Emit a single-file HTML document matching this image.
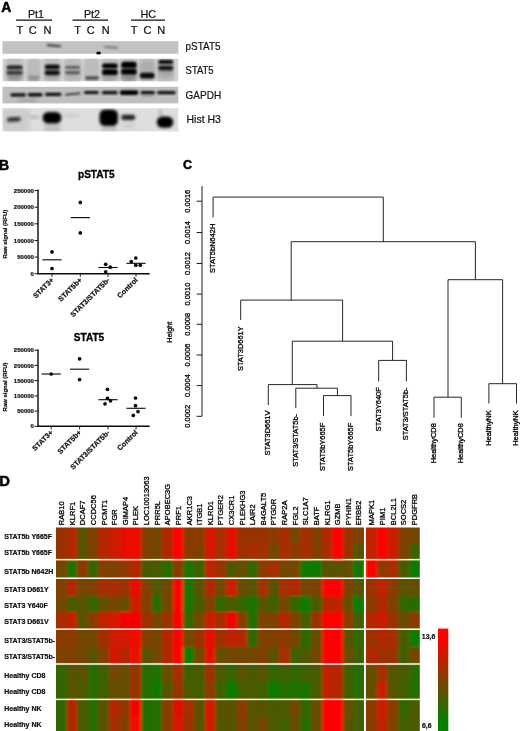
<!DOCTYPE html>
<html lang="en"><head><meta charset="utf-8"><title>Figure</title>
<style>html,body{margin:0;padding:0;background:#fff;overflow:hidden}svg{display:block}text{font-family:"Liberation Sans", sans-serif;fill:#111}.b{font-weight:bold}.h{stroke:#111;stroke-width:0.22px}.h2{fill:#000;stroke:#000;stroke-width:0.3px}.h3{fill:#000;stroke:#000;stroke-width:0.3px}.k{fill:#000;stroke:#000;stroke-width:0.5px}</style>
</head><body>
<svg width="520" height="731" viewBox="0 0 520 731">
<defs><filter id="bl0" x="-30%" y="-50%" width="160%" height="200%"><feGaussianBlur stdDeviation="0.5"/></filter><filter id="bl1" x="-20%" y="-50%" width="140%" height="200%"><feGaussianBlur stdDeviation="0.9"/></filter><filter id="bl2" x="-20%" y="-50%" width="140%" height="200%"><feGaussianBlur stdDeviation="1.5"/></filter><filter id="bl3" x="-20%" y="-50%" width="140%" height="200%"><feGaussianBlur stdDeviation="2.2"/></filter><filter id="hb" x="-5%" y="-5%" width="110%" height="110%"><feGaussianBlur stdDeviation="1.4 1.0"/></filter><filter id="gb" x="-5%" y="-100%" width="110%" height="300%"><feGaussianBlur stdDeviation="0.35"/></filter><linearGradient id="cb" x1="0" y1="0" x2="0" y2="1"><stop offset="0" stop-color="#ff0000"/><stop offset="0.1" stop-color="#fb0200"/><stop offset="0.9" stop-color="#048000"/><stop offset="1" stop-color="#008000"/></linearGradient></defs>
<rect width="520" height="731" fill="#fff"/>
<g id="panelA">
<text class="b k" x="1.2" y="11.7" font-size="14">A</text>
<text class="h" x="36.0" y="18" font-size="10.8" text-anchor="middle">Pt1</text>
<line x1="16.0" y1="20.1" x2="52.0" y2="20.1" stroke="#111" stroke-width="1.1"/>
<text class="h" x="19.8" y="33.5" font-size="11" text-anchor="middle">T</text>
<text class="h" x="32.8" y="33.5" font-size="11" text-anchor="middle">C</text>
<text class="h" x="47.5" y="33.5" font-size="11" text-anchor="middle">N</text>
<text class="h" x="92.0" y="18" font-size="10.8" text-anchor="middle">Pt2</text>
<line x1="72.5" y1="20.1" x2="108.0" y2="20.1" stroke="#111" stroke-width="1.1"/>
<text class="h" x="77.5" y="33.5" font-size="11" text-anchor="middle">T</text>
<text class="h" x="90.8" y="33.5" font-size="11" text-anchor="middle">C</text>
<text class="h" x="105.8" y="33.5" font-size="11" text-anchor="middle">N</text>
<text class="h" x="148.3" y="18" font-size="10.8" text-anchor="middle">HC</text>
<line x1="131.0" y1="20.1" x2="165.0" y2="20.1" stroke="#111" stroke-width="1.1"/>
<text class="h" x="134.2" y="33.5" font-size="11" text-anchor="middle">T</text>
<text class="h" x="147.5" y="33.5" font-size="11" text-anchor="middle">C</text>
<text class="h" x="161.2" y="33.5" font-size="11" text-anchor="middle">N</text>
<text class="h" x="185.6" y="49.9" font-size="11.2" textLength="34.9" lengthAdjust="spacingAndGlyphs">pSTAT5</text>
<text class="h" x="185.6" y="74.4" font-size="11.2" textLength="28.0" lengthAdjust="spacingAndGlyphs">STAT5</text>
<text class="h" x="185.6" y="98.9" font-size="11.2" textLength="35.5" lengthAdjust="spacingAndGlyphs">GAPDH</text>
<text class="h" x="186.5" y="122.9" font-size="11.2" textLength="34.4" lengthAdjust="spacingAndGlyphs">Hist H3</text>
<clipPath id="cs0"><rect x="2.5" y="41.2" width="175.8" height="12.6"/></clipPath>
<rect x="2.5" y="41.2" width="175.8" height="12.6" fill="#c2c2c2"/>
<clipPath id="cs1"><rect x="2.5" y="58.8" width="175.8" height="22.5"/></clipPath>
<rect x="2.5" y="58.8" width="175.8" height="22.5" fill="#d4d4d4"/>
<clipPath id="cs2"><rect x="2.5" y="86.8" width="175.8" height="16.6"/></clipPath>
<rect x="2.5" y="86.8" width="175.8" height="16.6" fill="#bfbfbf"/>
<clipPath id="cs3"><rect x="2.5" y="108.2" width="175.8" height="23.2"/></clipPath>
<rect x="2.5" y="108.2" width="175.8" height="23.2" fill="#dedede"/>
<g clip-path="url(#cs0)"><rect filter="url(#bl1)" x="46.5" y="44.6" width="14.5" height="2.1" rx="1.1" fill="#333" opacity="0.90" transform="rotate(5.0 53.8 45.6)"/></g>
<g clip-path="url(#cs0)"><rect filter="url(#bl1)" x="104.0" y="46.4" width="14.0" height="1.9" rx="0.9" fill="#606060" opacity="0.90" transform="rotate(4.0 111.0 47.4)"/></g>
<ellipse cx="98.6" cy="52.9" rx="2.4" ry="1.5" fill="#000" filter="url(#bl0)"/>
<g clip-path="url(#cs1)"><rect filter="url(#bl1)" x="5.5" y="57.2" width="18.0" height="26.0" rx="5.5" fill="#b9b9b9" opacity="0.85"/></g>
<g clip-path="url(#cs1)"><rect filter="url(#bl1)" x="27.0" y="57.2" width="13.5" height="26.0" rx="5.5" fill="#b9b9b9" opacity="0.85"/></g>
<g clip-path="url(#cs1)"><rect filter="url(#bl1)" x="43.5" y="57.2" width="17.5" height="26.0" rx="5.5" fill="#b9b9b9" opacity="0.85"/></g>
<g clip-path="url(#cs1)"><rect filter="url(#bl1)" x="64.0" y="57.2" width="17.5" height="26.0" rx="5.5" fill="#b9b9b9" opacity="0.85"/></g>
<g clip-path="url(#cs1)"><rect filter="url(#bl1)" x="84.0" y="57.2" width="15.0" height="26.0" rx="5.5" fill="#b9b9b9" opacity="0.85"/></g>
<g clip-path="url(#cs1)"><rect filter="url(#bl1)" x="101.0" y="57.2" width="18.0" height="26.0" rx="5.5" fill="#b9b9b9" opacity="0.85"/></g>
<g clip-path="url(#cs1)"><rect filter="url(#bl1)" x="120.2" y="57.2" width="17.8" height="26.0" rx="5.5" fill="#b9b9b9" opacity="0.85"/></g>
<g clip-path="url(#cs1)"><rect filter="url(#bl1)" x="139.2" y="57.2" width="16.3" height="26.0" rx="5.5" fill="#b9b9b9" opacity="0.85"/></g>
<g clip-path="url(#cs1)"><rect filter="url(#bl1)" x="157.2" y="57.2" width="17.3" height="26.0" rx="5.5" fill="#b9b9b9" opacity="0.85"/></g>
<g clip-path="url(#cs1)"><rect filter="url(#bl2)" x="6.6" y="65.0" width="15.9" height="15.0" rx="5.5" fill="#8c8c8c" opacity="0.90"/></g>
<g clip-path="url(#cs1)"><rect filter="url(#bl2)" x="28.0" y="75.0" width="11.5" height="5.5" rx="2.8" fill="#8a8a8a" opacity="0.85"/></g>
<g clip-path="url(#cs1)"><rect filter="url(#bl2)" x="28.0" y="63.0" width="11.5" height="12.0" rx="5.5" fill="#bbb" opacity="0.60"/></g>
<g clip-path="url(#cs1)"><rect filter="url(#bl2)" x="44.6" y="64.0" width="15.1" height="15.0" rx="5.5" fill="#999" opacity="0.85"/></g>
<g clip-path="url(#cs1)"><rect filter="url(#bl2)" x="65.0" y="65.0" width="15.0" height="13.0" rx="5.5" fill="#aaa" opacity="0.75"/></g>
<g clip-path="url(#cs1)"><rect filter="url(#bl2)" x="84.5" y="65.0" width="13.0" height="14.0" rx="5.5" fill="#bdbdbd" opacity="0.60"/></g>
<g clip-path="url(#cs1)"><rect filter="url(#bl2)" x="102.0" y="64.0" width="15.7" height="16.0" rx="5.5" fill="#999" opacity="0.85"/></g>
<g clip-path="url(#cs1)"><rect filter="url(#bl2)" x="121.0" y="63.0" width="15.5" height="18.0" rx="5.5" fill="#8a8a8a" opacity="0.90"/></g>
<g clip-path="url(#cs1)"><rect filter="url(#bl2)" x="140.0" y="61.0" width="14.4" height="14.0" rx="5.5" fill="#a8a8a8" opacity="0.75"/></g>
<g clip-path="url(#cs1)"><rect filter="url(#bl2)" x="158.3" y="60.5" width="14.7" height="17.0" rx="5.5" fill="#a0a0a0" opacity="0.80"/></g>
<g clip-path="url(#cs1)"><rect filter="url(#bl1)" x="6.8" y="65.8" width="15.7" height="3.2" rx="1.6" fill="#1a1a1a" opacity="1.00"/></g>
<g clip-path="url(#cs1)"><rect filter="url(#bl1)" x="6.8" y="71.3" width="15.7" height="3.0" rx="1.5" fill="#2a2a2a" opacity="0.95"/></g>
<g clip-path="url(#cs1)"><rect filter="url(#bl1)" x="44.8" y="64.8" width="14.9" height="4.4" rx="2.2" fill="#0c0c0c" opacity="1.00"/></g>
<g clip-path="url(#cs1)"><rect filter="url(#bl1)" x="44.8" y="70.5" width="14.9" height="4.6" rx="2.3" fill="#0c0c0c" opacity="1.00"/></g>
<g clip-path="url(#cs1)"><rect filter="url(#bl1)" x="65.2" y="65.9" width="14.8" height="2.8" rx="1.4" fill="#555" opacity="0.90"/></g>
<g clip-path="url(#cs1)"><rect filter="url(#bl1)" x="65.2" y="71.3" width="14.8" height="2.6" rx="1.3" fill="#4a4a4a" opacity="0.90"/></g>
<g clip-path="url(#cs1)"><rect filter="url(#bl1)" x="85.0" y="76.2" width="14.0" height="3.6" rx="1.8" fill="#444" opacity="0.90"/></g>
<g clip-path="url(#cs1)"><rect filter="url(#bl1)" x="102.2" y="63.6" width="15.5" height="4.6" rx="2.3" fill="#060606" opacity="1.00"/></g>
<g clip-path="url(#cs1)"><rect filter="url(#bl1)" x="102.2" y="69.3" width="15.5" height="5.8" rx="2.9" fill="#040404" opacity="1.00"/></g>
<g clip-path="url(#cs1)"><rect filter="url(#bl1)" x="121.2" y="61.7" width="15.4" height="6.4" rx="3.2" fill="#030303" opacity="1.00"/></g>
<g clip-path="url(#cs1)"><rect filter="url(#bl1)" x="121.2" y="68.8" width="15.4" height="5.8" rx="2.9" fill="#030303" opacity="1.00"/></g>
<g clip-path="url(#cs1)"><rect filter="url(#bl1)" x="139.8" y="72.7" width="14.8" height="5.8" rx="2.9" fill="#080808" opacity="1.00"/></g>
<g clip-path="url(#cs1)"><rect filter="url(#bl1)" x="158.3" y="60.1" width="14.9" height="4.0" rx="2.0" fill="#0a0a0a" opacity="1.00"/></g>
<g clip-path="url(#cs1)"><rect filter="url(#bl1)" x="158.3" y="65.8" width="14.9" height="4.6" rx="2.3" fill="#141414" opacity="1.00"/></g>
<g clip-path="url(#cs2)"><rect filter="url(#bl2)" x="18.0" y="99.1" width="19.0" height="2.6" rx="1.3" fill="#999" opacity="0.80"/></g>
<g clip-path="url(#cs2)"><rect filter="url(#bl1)" x="10.4" y="93.2" width="15.6" height="3.4" rx="1.7" fill="#0a0a0a" opacity="1.00"/></g>
<g clip-path="url(#cs2)"><rect filter="url(#bl1)" x="27.7" y="92.9" width="14.9" height="3.6" rx="1.8" fill="#0a0a0a" opacity="1.00"/></g>
<g clip-path="url(#cs2)"><rect filter="url(#bl1)" x="45.0" y="92.7" width="16.4" height="3.2" rx="1.6" fill="#0a0a0a" opacity="1.00"/></g>
<g clip-path="url(#cs2)"><rect filter="url(#bl1)" x="65.0" y="92.9" width="15.4" height="2.2" rx="1.1" fill="#333" opacity="0.95" transform="rotate(-5.0 72.7 94.0)"/></g>
<g clip-path="url(#cs2)"><rect filter="url(#bl1)" x="84.0" y="91.1" width="14.7" height="3.0" rx="1.5" fill="#0a0a0a" opacity="1.00"/></g>
<g clip-path="url(#cs2)"><rect filter="url(#bl1)" x="101.8" y="90.9" width="15.9" height="3.4" rx="1.7" fill="#0a0a0a" opacity="1.00"/></g>
<g clip-path="url(#cs2)"><rect filter="url(#bl1)" x="119.8" y="90.3" width="18.6" height="4.6" rx="2.3" fill="#050505" opacity="1.00"/></g>
<g clip-path="url(#cs2)"><rect filter="url(#bl1)" x="140.5" y="91.1" width="14.5" height="3.2" rx="1.6" fill="#0c0c0c" opacity="1.00"/></g>
<g clip-path="url(#cs2)"><rect filter="url(#bl1)" x="142.0" y="95.0" width="11.0" height="1.6" rx="0.8" fill="#777" opacity="0.80"/></g>
<g clip-path="url(#cs2)"><rect filter="url(#bl1)" x="157.1" y="91.0" width="18.5" height="3.2" rx="1.6" fill="#0a0a0a" opacity="1.00"/></g>
<g clip-path="url(#cs3)"><rect filter="url(#bl3)" x="2.5" y="108.0" width="27.5" height="24.0" rx="5.5" fill="#c8c8c8" opacity="0.80"/></g>
<g clip-path="url(#cs3)"><rect filter="url(#bl2)" x="6.9" y="117.2" width="13.9" height="4.4" rx="2.2" fill="#262626" opacity="1.00" transform="rotate(-4.0 13.9 119.4)"/></g>
<g clip-path="url(#cs3)"><rect filter="url(#bl2)" x="30.0" y="115.5" width="9.0" height="3.0" rx="1.5" fill="#aaa" opacity="0.80"/></g>
<g clip-path="url(#cs3)"><rect filter="url(#bl2)" x="44.0" y="124.5" width="17.0" height="7.0" rx="3.5" fill="#bbb" opacity="0.80"/></g>
<g clip-path="url(#cs3)"><rect filter="url(#bl2)" x="42.6" y="112.0" width="18.8" height="11.6" rx="5.5" fill="#020202" opacity="1.00"/></g>
<g clip-path="url(#cs3)"><rect filter="url(#bl2)" x="64.0" y="114.0" width="16.0" height="3.0" rx="1.5" fill="#c4c4c4" opacity="0.80"/></g>
<g clip-path="url(#cs3)"><rect filter="url(#bl2)" x="101.0" y="126.5" width="16.0" height="5.0" rx="2.5" fill="#bbb" opacity="0.80"/></g>
<g clip-path="url(#cs3)"><rect filter="url(#bl2)" x="99.5" y="109.5" width="18.4" height="16.5" rx="5.5" fill="#010101" opacity="1.00"/></g>
<g clip-path="url(#cs3)"><rect filter="url(#bl2)" x="122.0" y="123.0" width="13.0" height="6.0" rx="3.0" fill="#ccc" opacity="0.70"/></g>
<g clip-path="url(#cs3)"><rect filter="url(#bl2)" x="121.2" y="114.7" width="14.0" height="5.2" rx="2.6" fill="#1a1a1a" opacity="1.00"/></g>
<g clip-path="url(#cs3)"><rect filter="url(#bl2)" x="158.0" y="109.0" width="5.0" height="8.0" rx="4.0" fill="#bbb" opacity="0.80"/></g>
<g clip-path="url(#cs3)"><rect filter="url(#bl2)" x="156.8" y="116.6" width="16.4" height="11.2" rx="5.5" fill="#050505" opacity="1.00"/></g>
</g>
<g id="panelB">
<text class="b k" x="-1" y="170" font-size="14">B</text>
<text class="b h3" x="96.3" y="178.2" font-size="10.1" text-anchor="middle">pSTAT5</text>
<path d="M38 189.6V273.7H149.7" fill="none" stroke="#0a0a0a" stroke-width="1.4"/>
<line x1="34.6" y1="273.7" x2="38" y2="273.7" stroke="#111" stroke-width="1"/>
<text class="b h" x="33.9" y="275.8" font-size="6" text-anchor="end">0</text>
<line x1="34.6" y1="257.1" x2="38" y2="257.1" stroke="#111" stroke-width="1"/>
<text class="b h" x="33.9" y="259.2" font-size="6" text-anchor="end">50000</text>
<line x1="34.6" y1="240.5" x2="38" y2="240.5" stroke="#111" stroke-width="1"/>
<text class="b h" x="33.9" y="242.6" font-size="6" text-anchor="end">100000</text>
<line x1="34.6" y1="223.8" x2="38" y2="223.8" stroke="#111" stroke-width="1"/>
<text class="b h" x="33.9" y="225.9" font-size="6" text-anchor="end">150000</text>
<line x1="34.6" y1="207.2" x2="38" y2="207.2" stroke="#111" stroke-width="1"/>
<text class="b h" x="33.9" y="209.3" font-size="6" text-anchor="end">200000</text>
<line x1="34.6" y1="190.6" x2="38" y2="190.6" stroke="#111" stroke-width="1"/>
<text class="b h" x="33.9" y="192.7" font-size="6" text-anchor="end">250000</text>
<text class="b h" font-size="5.95" text-anchor="middle" transform="translate(6.6 234.2) rotate(-90)">Raw signal (RFU)</text>
<line x1="42.4" y1="259.8" x2="61.6" y2="259.8" stroke="#111" stroke-width="1.15"/>
<circle cx="52.0" cy="251.9" r="1.85" fill="#0a0a0a"/>
<circle cx="52.0" cy="268.5" r="1.85" fill="#0a0a0a"/>
<line x1="52.0" y1="273.7" x2="52.0" y2="276.9" stroke="#111" stroke-width="0.9"/>
<text class="b h" font-size="7.2" text-anchor="end" transform="translate(54.2 280.5) rotate(-45)">STAT3+</text>
<line x1="70.7" y1="217.6" x2="89.9" y2="217.6" stroke="#111" stroke-width="1.15"/>
<circle cx="80.3" cy="202.4" r="1.85" fill="#0a0a0a"/>
<circle cx="80.3" cy="232.9" r="1.85" fill="#0a0a0a"/>
<line x1="80.3" y1="273.7" x2="80.3" y2="276.9" stroke="#111" stroke-width="0.9"/>
<text class="b h" font-size="7.2" text-anchor="end" transform="translate(82.5 280.5) rotate(-45)">STAT5b+</text>
<line x1="98.4" y1="267.5" x2="117.6" y2="267.5" stroke="#111" stroke-width="1.15"/>
<circle cx="105.7" cy="264.3" r="1.85" fill="#0a0a0a"/>
<circle cx="110.2" cy="267.2" r="1.85" fill="#0a0a0a"/>
<circle cx="105.7" cy="271.8" r="1.85" fill="#0a0a0a"/>
<line x1="108.0" y1="273.7" x2="108.0" y2="276.9" stroke="#111" stroke-width="0.9"/>
<text class="b h" font-size="7.2" text-anchor="end" transform="translate(110.2 280.5) rotate(-45)">STAT3/STAT5b-</text>
<line x1="126.4" y1="263.3" x2="145.6" y2="263.3" stroke="#111" stroke-width="1.15"/>
<circle cx="131.3" cy="261.5" r="1.85" fill="#0a0a0a"/>
<circle cx="135.8" cy="258.0" r="1.85" fill="#0a0a0a"/>
<circle cx="135.8" cy="265.2" r="1.85" fill="#0a0a0a"/>
<circle cx="140.3" cy="265.2" r="1.85" fill="#0a0a0a"/>
<line x1="136.0" y1="273.7" x2="136.0" y2="276.9" stroke="#111" stroke-width="0.9"/>
<text class="b h" font-size="7.2" text-anchor="end" transform="translate(138.2 280.5) rotate(-45)">Control</text>
<text class="b h3" x="89.0" y="340.7" font-size="10.1" text-anchor="middle">STAT5</text>
<path d="M38 349.5V426.3H149.7" fill="none" stroke="#0a0a0a" stroke-width="1.4"/>
<line x1="34.6" y1="426.3" x2="38" y2="426.3" stroke="#111" stroke-width="1"/>
<text class="b h" x="33.9" y="428.4" font-size="6" text-anchor="end">0</text>
<line x1="34.6" y1="411.1" x2="38" y2="411.1" stroke="#111" stroke-width="1"/>
<text class="b h" x="33.9" y="413.2" font-size="6" text-anchor="end">50000</text>
<line x1="34.6" y1="395.9" x2="38" y2="395.9" stroke="#111" stroke-width="1"/>
<text class="b h" x="33.9" y="398.0" font-size="6" text-anchor="end">100000</text>
<line x1="34.6" y1="380.6" x2="38" y2="380.6" stroke="#111" stroke-width="1"/>
<text class="b h" x="33.9" y="382.7" font-size="6" text-anchor="end">150000</text>
<line x1="34.6" y1="365.4" x2="38" y2="365.4" stroke="#111" stroke-width="1"/>
<text class="b h" x="33.9" y="367.5" font-size="6" text-anchor="end">200000</text>
<line x1="34.6" y1="350.2" x2="38" y2="350.2" stroke="#111" stroke-width="1"/>
<text class="b h" x="33.9" y="352.3" font-size="6" text-anchor="end">250000</text>
<text class="b h" font-size="5.95" text-anchor="middle" transform="translate(6.6 387.0) rotate(-90)">Raw signal (RFU)</text>
<line x1="41.6" y1="374.0" x2="60.8" y2="374.0" stroke="#111" stroke-width="1.15"/>
<circle cx="51.2" cy="374.0" r="1.85" fill="#0a0a0a"/>
<line x1="51.2" y1="426.3" x2="51.2" y2="429.5" stroke="#111" stroke-width="0.9"/>
<text class="b h" font-size="7.2" text-anchor="end" transform="translate(53.4 433.0) rotate(-45)">STAT3+</text>
<line x1="70.0" y1="369.2" x2="89.2" y2="369.2" stroke="#111" stroke-width="1.15"/>
<circle cx="79.6" cy="358.8" r="1.85" fill="#0a0a0a"/>
<circle cx="79.6" cy="379.6" r="1.85" fill="#0a0a0a"/>
<line x1="79.6" y1="426.3" x2="79.6" y2="429.5" stroke="#111" stroke-width="0.9"/>
<text class="b h" font-size="7.2" text-anchor="end" transform="translate(81.8 433.0) rotate(-45)">STAT5b+</text>
<line x1="98.4" y1="399.7" x2="117.6" y2="399.7" stroke="#111" stroke-width="1.15"/>
<circle cx="107.5" cy="389.3" r="1.85" fill="#0a0a0a"/>
<circle cx="107.5" cy="398.3" r="1.85" fill="#0a0a0a"/>
<circle cx="110.5" cy="400.8" r="1.85" fill="#0a0a0a"/>
<circle cx="105.0" cy="403.8" r="1.85" fill="#0a0a0a"/>
<line x1="108.0" y1="426.3" x2="108.0" y2="429.5" stroke="#111" stroke-width="0.9"/>
<text class="b h" font-size="7.2" text-anchor="end" transform="translate(110.2 433.0) rotate(-45)">STAT3/STAT5b-</text>
<line x1="126.4" y1="408.3" x2="145.6" y2="408.3" stroke="#111" stroke-width="1.15"/>
<circle cx="135.5" cy="398.0" r="1.85" fill="#0a0a0a"/>
<circle cx="135.5" cy="405.7" r="1.85" fill="#0a0a0a"/>
<circle cx="138.0" cy="411.6" r="1.85" fill="#0a0a0a"/>
<circle cx="133.3" cy="415.4" r="1.85" fill="#0a0a0a"/>
<line x1="136.0" y1="426.3" x2="136.0" y2="429.5" stroke="#111" stroke-width="0.9"/>
<text class="b h" font-size="7.2" text-anchor="end" transform="translate(138.2 433.0) rotate(-45)">Control</text>
</g>
<g id="panelC">
<text class="b k" x="183" y="169" font-size="12.5">C</text>
<line x1="202" y1="186" x2="202" y2="416.3" stroke="#111" stroke-width="0.95"/>
<line x1="196.6" y1="201.2" x2="202" y2="201.2" stroke="#111" stroke-width="0.95"/>
<text class="h2" font-size="7.5" text-anchor="middle" transform="translate(190.1 201.2) rotate(-90)">0.0016</text>
<line x1="196.6" y1="232.5" x2="202" y2="232.5" stroke="#111" stroke-width="0.95"/>
<text class="h2" font-size="7.5" text-anchor="middle" transform="translate(190.1 232.5) rotate(-90)">0.0014</text>
<line x1="196.6" y1="263.5" x2="202" y2="263.5" stroke="#111" stroke-width="0.95"/>
<text class="h2" font-size="7.5" text-anchor="middle" transform="translate(190.1 263.5) rotate(-90)">0.0012</text>
<line x1="196.6" y1="294.1" x2="202" y2="294.1" stroke="#111" stroke-width="0.95"/>
<text class="h2" font-size="7.5" text-anchor="middle" transform="translate(190.1 294.1) rotate(-90)">0.0010</text>
<line x1="196.6" y1="324.3" x2="202" y2="324.3" stroke="#111" stroke-width="0.95"/>
<text class="h2" font-size="7.5" text-anchor="middle" transform="translate(190.1 324.3) rotate(-90)">0.0008</text>
<line x1="196.6" y1="355.0" x2="202" y2="355.0" stroke="#111" stroke-width="0.95"/>
<text class="h2" font-size="7.5" text-anchor="middle" transform="translate(190.1 355.0) rotate(-90)">0.0006</text>
<line x1="196.6" y1="385.6" x2="202" y2="385.6" stroke="#111" stroke-width="0.95"/>
<text class="h2" font-size="7.5" text-anchor="middle" transform="translate(190.1 385.6) rotate(-90)">0.0004</text>
<line x1="196.6" y1="416.3" x2="202" y2="416.3" stroke="#111" stroke-width="0.95"/>
<text class="h2" font-size="7.5" text-anchor="middle" transform="translate(190.1 416.3) rotate(-90)">0.0002</text>
<text class="h2" font-size="7.3" text-anchor="middle" transform="translate(171.8 332.2) rotate(-90)">Height</text>
<path d="M213.1 217.3V197.1H383.3V241.7M291.2 300.1V241.7H475.4V279.7M240.7 319.9V300.1H342.6V341.2M292.3 384.6V341.2H392.6V360.4M268.3 405.0V384.6H317V388.2M295.8 408.2V388.2H337.4V395.6M323.5 416.1V395.6H351.0V416.1M378.7 381.5V360.4H406.4V381.5M448 397.2V279.7H502.6V383.7M434.0 417.7V397.2H461.3V417.7M488.9 403.5V383.7H516.5V403.5" fill="none" stroke="#1a1a1a" stroke-width="0.95"/>
<text class="h2" font-size="7.45" text-anchor="end" transform="translate(215.0 223.7) rotate(-90)">STAT5bN642H</text>
<text class="h2" font-size="7.45" text-anchor="end" transform="translate(242.6 326.3) rotate(-90)">STAT3D661Y</text>
<text class="h2" font-size="7.45" text-anchor="end" transform="translate(270.2 410.6) rotate(-90)">STAT3D661V</text>
<text class="h2" font-size="7.45" text-anchor="end" transform="translate(297.7 414.0) rotate(-90)">STAT3/STAT5b-</text>
<text class="h2" font-size="7.45" text-anchor="end" transform="translate(325.4 422.8) rotate(-90)">STAT5bY665F</text>
<text class="h2" font-size="7.45" text-anchor="end" transform="translate(352.9 422.8) rotate(-90)">STAT5bY665F</text>
<text class="h2" font-size="7.45" text-anchor="end" transform="translate(380.6 387.2) rotate(-90)">STAT3Y640F</text>
<text class="h2" font-size="7.45" text-anchor="end" transform="translate(408.3 387.5) rotate(-90)">STAT3/STAT5b-</text>
<text class="h2" font-size="7.45" text-anchor="end" transform="translate(435.9 423.2) rotate(-90)">HealthyCD8</text>
<text class="h2" font-size="7.45" text-anchor="end" transform="translate(463.2 423.2) rotate(-90)">HealthyCD8</text>
<text class="h2" font-size="7.45" text-anchor="end" transform="translate(490.8 410.3) rotate(-90)">HealthyNK</text>
<text class="h2" font-size="7.45" text-anchor="end" transform="translate(518.4 410.3) rotate(-90)">HealthyNK</text>
</g>
<g id="panelD">
<text class="b k" x="-0.8" y="486.2" font-size="14.8">D</text>
<text class="h3" font-size="7.5" transform="translate(64.0 525.2) rotate(-90)">RAB10</text>
<text class="h3" font-size="7.5" transform="translate(74.6 525.2) rotate(-90)">KLRF1</text>
<text class="h3" font-size="7.5" transform="translate(85.3 525.2) rotate(-90)">DCAF7</text>
<text class="h3" font-size="7.5" transform="translate(95.9 525.2) rotate(-90)">CCDC56</text>
<text class="h3" font-size="7.5" transform="translate(106.5 525.2) rotate(-90)">PCMT1</text>
<text class="h3" font-size="7.5" transform="translate(117.1 525.2) rotate(-90)">FGR</text>
<text class="h3" font-size="7.5" transform="translate(127.7 525.2) rotate(-90)">GIMAP4</text>
<text class="h3" font-size="7.5" transform="translate(138.4 525.2) rotate(-90)">PLEK</text>
<text class="h3" font-size="7.5" transform="translate(149.0 525.2) rotate(-90)">LOC10013063</text>
<text class="h3" font-size="7.5" transform="translate(159.6 525.2) rotate(-90)">PRR5L</text>
<text class="h3" font-size="7.5" transform="translate(170.2 525.2) rotate(-90)">APOBEC3G</text>
<text class="h3" font-size="7.5" transform="translate(180.8 525.2) rotate(-90)">PRF1</text>
<text class="h3" font-size="7.5" transform="translate(191.5 525.2) rotate(-90)">AKR1C3</text>
<text class="h3" font-size="7.5" transform="translate(202.1 525.2) rotate(-90)">ITGB1</text>
<text class="h3" font-size="7.5" transform="translate(212.7 525.2) rotate(-90)">KLRD1</text>
<text class="h3" font-size="7.5" transform="translate(223.3 525.2) rotate(-90)">PTGER2</text>
<text class="h3" font-size="7.5" transform="translate(233.9 525.2) rotate(-90)">CX3CR1</text>
<text class="h3" font-size="7.5" transform="translate(244.6 525.2) rotate(-90)">PLEKHG3</text>
<text class="h3" font-size="7.5" transform="translate(255.2 525.2) rotate(-90)">LAIR2</text>
<text class="h3" font-size="7.5" transform="translate(265.8 525.2) rotate(-90)">B4GALT5</text>
<text class="h3" font-size="7.5" transform="translate(276.4 525.2) rotate(-90)">PTGDR</text>
<text class="h3" font-size="7.5" transform="translate(287.0 525.2) rotate(-90)">RAP2A</text>
<text class="h3" font-size="7.5" transform="translate(297.7 525.2) rotate(-90)">FGL2</text>
<text class="h3" font-size="7.5" transform="translate(308.3 525.2) rotate(-90)">SLC1A7</text>
<text class="h3" font-size="7.5" transform="translate(318.9 525.2) rotate(-90)">BATF</text>
<text class="h3" font-size="7.5" transform="translate(329.5 525.2) rotate(-90)">KLRG1</text>
<text class="h3" font-size="7.5" transform="translate(340.1 525.2) rotate(-90)">GZMB</text>
<text class="h3" font-size="7.5" transform="translate(350.8 525.2) rotate(-90)">PYHIN1</text>
<text class="h3" font-size="7.5" transform="translate(361.4 525.2) rotate(-90)">ERBB2</text>
<text class="h3" font-size="7.5" transform="translate(374.0 525.2) rotate(-90)">MAPK1</text>
<text class="h3" font-size="7.5" transform="translate(384.8 525.2) rotate(-90)">PIM1</text>
<text class="h3" font-size="7.5" transform="translate(395.6 525.2) rotate(-90)">BCL2L1</text>
<text class="h3" font-size="7.5" transform="translate(406.3 525.2) rotate(-90)">SOCS2</text>
<text class="h3" font-size="7.5" transform="translate(417.1 525.2) rotate(-90)">PDGFRB</text>
<text class="b h" x="4.2" y="538.5" font-size="7">STAT5b Y665F</text>
<text class="b h" x="4.2" y="554.9" font-size="7">STAT5b Y665F</text>
<text class="b h" x="4.2" y="573.5" font-size="7">STAT5b N642H</text>
<text class="b h" x="4.2" y="591.9" font-size="7">STAT3 D661Y</text>
<text class="b h" x="4.2" y="608.1" font-size="7">STAT3 Y640F</text>
<text class="b h" x="4.2" y="624.2" font-size="7">STAT3 D661V</text>
<text class="b h" x="4.2" y="642.7" font-size="7">STAT3/STAT5b-</text>
<text class="b h" x="4.2" y="659.4" font-size="7">STAT3/STAT5b-</text>
<text class="b h" x="4.2" y="677.7" font-size="7">Healthy CD8</text>
<text class="b h" x="4.2" y="694.1" font-size="7">Healthy CD8</text>
<text class="b h" x="4.2" y="711.3" font-size="7">Healthy NK</text>
<text class="b h" x="4.2" y="726.8" font-size="7">Healthy NK</text>
<clipPath id="hmclip"><rect x="56.00" y="527.40" width="363.80" height="205.60"/></clipPath>
<g clip-path="url(#hmclip)"><g filter="url(#hb)" shape-rendering="crispEdges">
<rect x="52.00" y="523.40" width="15.22" height="20.40" fill="#993300"/>
<rect x="66.62" y="523.40" width="11.22" height="20.40" fill="#b22600"/>
<rect x="77.24" y="523.40" width="11.22" height="20.40" fill="#595300"/>
<rect x="87.86" y="523.40" width="11.22" height="20.40" fill="#804000"/>
<rect x="98.48" y="523.40" width="11.22" height="20.40" fill="#b22600"/>
<rect x="109.10" y="523.40" width="11.22" height="20.40" fill="#cc1a00"/>
<rect x="119.72" y="523.40" width="11.22" height="20.40" fill="#e60d00"/>
<rect x="130.34" y="523.40" width="11.22" height="20.40" fill="#ed0900"/>
<rect x="140.97" y="523.40" width="11.22" height="20.40" fill="#804000"/>
<rect x="151.59" y="523.40" width="11.22" height="20.40" fill="#734600"/>
<rect x="162.21" y="523.40" width="11.22" height="20.40" fill="#b22600"/>
<rect x="172.83" y="523.40" width="11.22" height="20.40" fill="#ff0000"/>
<rect x="183.45" y="523.40" width="11.22" height="20.40" fill="#8c3a00"/>
<rect x="194.07" y="523.40" width="11.22" height="20.40" fill="#8c3a00"/>
<rect x="204.69" y="523.40" width="11.22" height="20.40" fill="#d91300"/>
<rect x="215.31" y="523.40" width="11.22" height="20.40" fill="#a62d00"/>
<rect x="225.93" y="523.40" width="11.22" height="20.40" fill="#e60d00"/>
<rect x="236.55" y="523.40" width="11.22" height="20.40" fill="#993300"/>
<rect x="247.17" y="523.40" width="11.22" height="20.40" fill="#993300"/>
<rect x="257.79" y="523.40" width="11.22" height="20.40" fill="#993300"/>
<rect x="268.41" y="523.40" width="11.22" height="20.40" fill="#8c3a00"/>
<rect x="279.03" y="523.40" width="11.22" height="20.40" fill="#a62d00"/>
<rect x="289.66" y="523.40" width="11.22" height="20.40" fill="#734600"/>
<rect x="300.28" y="523.40" width="11.22" height="20.40" fill="#a62d00"/>
<rect x="310.90" y="523.40" width="11.22" height="20.40" fill="#804000"/>
<rect x="321.52" y="523.40" width="11.22" height="20.40" fill="#b22600"/>
<rect x="332.14" y="523.40" width="11.22" height="20.40" fill="#ff0000"/>
<rect x="342.76" y="523.40" width="11.22" height="20.40" fill="#993300"/>
<rect x="353.38" y="523.40" width="12.32" height="20.40" fill="#804000"/>
<rect x="364.80" y="523.40" width="12.48" height="20.40" fill="#bf2000"/>
<rect x="376.68" y="523.40" width="11.38" height="20.40" fill="#ff0000"/>
<rect x="387.46" y="523.40" width="11.38" height="20.40" fill="#cc1a00"/>
<rect x="398.24" y="523.40" width="11.38" height="20.40" fill="#804000"/>
<rect x="409.02" y="523.40" width="15.38" height="20.40" fill="#734600"/>
<rect x="52.00" y="543.20" width="15.22" height="17.05" fill="#993300"/>
<rect x="66.62" y="543.20" width="11.22" height="17.05" fill="#b22600"/>
<rect x="77.24" y="543.20" width="11.22" height="17.05" fill="#595300"/>
<rect x="87.86" y="543.20" width="11.22" height="17.05" fill="#804000"/>
<rect x="98.48" y="543.20" width="11.22" height="17.05" fill="#b22600"/>
<rect x="109.10" y="543.20" width="11.22" height="17.05" fill="#cc1a00"/>
<rect x="119.72" y="543.20" width="11.22" height="17.05" fill="#e60d00"/>
<rect x="130.34" y="543.20" width="11.22" height="17.05" fill="#ed0900"/>
<rect x="140.97" y="543.20" width="11.22" height="17.05" fill="#804000"/>
<rect x="151.59" y="543.20" width="11.22" height="17.05" fill="#734600"/>
<rect x="162.21" y="543.20" width="11.22" height="17.05" fill="#b22600"/>
<rect x="172.83" y="543.20" width="11.22" height="17.05" fill="#ff0000"/>
<rect x="183.45" y="543.20" width="11.22" height="17.05" fill="#8c3a00"/>
<rect x="194.07" y="543.20" width="11.22" height="17.05" fill="#804000"/>
<rect x="204.69" y="543.20" width="11.22" height="17.05" fill="#d91300"/>
<rect x="215.31" y="543.20" width="11.22" height="17.05" fill="#a62d00"/>
<rect x="225.93" y="543.20" width="11.22" height="17.05" fill="#e60d00"/>
<rect x="236.55" y="543.20" width="11.22" height="17.05" fill="#993300"/>
<rect x="247.17" y="543.20" width="11.22" height="17.05" fill="#a62d00"/>
<rect x="257.79" y="543.20" width="11.22" height="17.05" fill="#a62d00"/>
<rect x="268.41" y="543.20" width="11.22" height="17.05" fill="#734600"/>
<rect x="279.03" y="543.20" width="11.22" height="17.05" fill="#a62d00"/>
<rect x="289.66" y="543.20" width="11.22" height="17.05" fill="#8c3a00"/>
<rect x="300.28" y="543.20" width="11.22" height="17.05" fill="#a62d00"/>
<rect x="310.90" y="543.20" width="11.22" height="17.05" fill="#804000"/>
<rect x="321.52" y="543.20" width="11.22" height="17.05" fill="#a62d00"/>
<rect x="332.14" y="543.20" width="11.22" height="17.05" fill="#ff0000"/>
<rect x="342.76" y="543.20" width="11.22" height="17.05" fill="#993300"/>
<rect x="353.38" y="543.20" width="12.32" height="17.05" fill="#595300"/>
<rect x="364.80" y="543.20" width="12.48" height="17.05" fill="#bf2000"/>
<rect x="376.68" y="543.20" width="11.38" height="17.05" fill="#ff0000"/>
<rect x="387.46" y="543.20" width="11.38" height="17.05" fill="#cc1a00"/>
<rect x="398.24" y="543.20" width="11.38" height="17.05" fill="#804000"/>
<rect x="409.02" y="543.20" width="15.38" height="17.05" fill="#406000"/>
<rect x="52.00" y="559.65" width="15.22" height="19.20" fill="#734600"/>
<rect x="66.62" y="559.65" width="11.22" height="19.20" fill="#1a7300"/>
<rect x="77.24" y="559.65" width="11.22" height="19.20" fill="#8c3a00"/>
<rect x="87.86" y="559.65" width="11.22" height="19.20" fill="#336600"/>
<rect x="98.48" y="559.65" width="11.22" height="19.20" fill="#804000"/>
<rect x="109.10" y="559.65" width="11.22" height="19.20" fill="#804000"/>
<rect x="119.72" y="559.65" width="11.22" height="19.20" fill="#8c3a00"/>
<rect x="130.34" y="559.65" width="11.22" height="19.20" fill="#b22600"/>
<rect x="140.97" y="559.65" width="11.22" height="19.20" fill="#4c5a00"/>
<rect x="151.59" y="559.65" width="11.22" height="19.20" fill="#4c5a00"/>
<rect x="162.21" y="559.65" width="11.22" height="19.20" fill="#266d00"/>
<rect x="172.83" y="559.65" width="11.22" height="19.20" fill="#8c3a00"/>
<rect x="183.45" y="559.65" width="11.22" height="19.20" fill="#1a7300"/>
<rect x="194.07" y="559.65" width="11.22" height="19.20" fill="#406000"/>
<rect x="204.69" y="559.65" width="11.22" height="19.20" fill="#bf2000"/>
<rect x="215.31" y="559.65" width="11.22" height="19.20" fill="#993300"/>
<rect x="225.93" y="559.65" width="11.22" height="19.20" fill="#4c5a00"/>
<rect x="236.55" y="559.65" width="11.22" height="19.20" fill="#664d00"/>
<rect x="247.17" y="559.65" width="11.22" height="19.20" fill="#336600"/>
<rect x="257.79" y="559.65" width="11.22" height="19.20" fill="#8c3a00"/>
<rect x="268.41" y="559.65" width="11.22" height="19.20" fill="#a62d00"/>
<rect x="279.03" y="559.65" width="11.22" height="19.20" fill="#734600"/>
<rect x="289.66" y="559.65" width="11.22" height="19.20" fill="#734600"/>
<rect x="300.28" y="559.65" width="11.22" height="19.20" fill="#0d7a00"/>
<rect x="310.90" y="559.65" width="11.22" height="19.20" fill="#0d7a00"/>
<rect x="321.52" y="559.65" width="11.22" height="19.20" fill="#595300"/>
<rect x="332.14" y="559.65" width="11.22" height="19.20" fill="#595300"/>
<rect x="342.76" y="559.65" width="11.22" height="19.20" fill="#664d00"/>
<rect x="353.38" y="559.65" width="12.32" height="19.20" fill="#0d7a00"/>
<rect x="364.80" y="559.65" width="12.48" height="19.20" fill="#ff0000"/>
<rect x="376.68" y="559.65" width="11.38" height="19.20" fill="#8c3a00"/>
<rect x="387.46" y="559.65" width="11.38" height="19.20" fill="#a62d00"/>
<rect x="398.24" y="559.65" width="11.38" height="19.20" fill="#4c5a00"/>
<rect x="409.02" y="559.65" width="15.38" height="19.20" fill="#0d7a00"/>
<rect x="52.00" y="578.25" width="15.22" height="17.85" fill="#804000"/>
<rect x="66.62" y="578.25" width="11.22" height="17.85" fill="#b22600"/>
<rect x="77.24" y="578.25" width="11.22" height="17.85" fill="#734600"/>
<rect x="87.86" y="578.25" width="11.22" height="17.85" fill="#804000"/>
<rect x="98.48" y="578.25" width="11.22" height="17.85" fill="#a62d00"/>
<rect x="109.10" y="578.25" width="11.22" height="17.85" fill="#a62d00"/>
<rect x="119.72" y="578.25" width="11.22" height="17.85" fill="#993300"/>
<rect x="130.34" y="578.25" width="11.22" height="17.85" fill="#e60d00"/>
<rect x="140.97" y="578.25" width="11.22" height="17.85" fill="#804000"/>
<rect x="151.59" y="578.25" width="11.22" height="17.85" fill="#4c5a00"/>
<rect x="162.21" y="578.25" width="11.22" height="17.85" fill="#734600"/>
<rect x="172.83" y="578.25" width="11.22" height="17.85" fill="#ff0000"/>
<rect x="183.45" y="578.25" width="11.22" height="17.85" fill="#1a7300"/>
<rect x="194.07" y="578.25" width="11.22" height="17.85" fill="#595300"/>
<rect x="204.69" y="578.25" width="11.22" height="17.85" fill="#b22600"/>
<rect x="215.31" y="578.25" width="11.22" height="17.85" fill="#734600"/>
<rect x="225.93" y="578.25" width="11.22" height="17.85" fill="#cc1a00"/>
<rect x="236.55" y="578.25" width="11.22" height="17.85" fill="#664d00"/>
<rect x="247.17" y="578.25" width="11.22" height="17.85" fill="#595300"/>
<rect x="257.79" y="578.25" width="11.22" height="17.85" fill="#a62d00"/>
<rect x="268.41" y="578.25" width="11.22" height="17.85" fill="#595300"/>
<rect x="279.03" y="578.25" width="11.22" height="17.85" fill="#a62d00"/>
<rect x="289.66" y="578.25" width="11.22" height="17.85" fill="#b22600"/>
<rect x="300.28" y="578.25" width="11.22" height="17.85" fill="#734600"/>
<rect x="310.90" y="578.25" width="11.22" height="17.85" fill="#804000"/>
<rect x="321.52" y="578.25" width="11.22" height="17.85" fill="#ff0000"/>
<rect x="332.14" y="578.25" width="11.22" height="17.85" fill="#ff0000"/>
<rect x="342.76" y="578.25" width="11.22" height="17.85" fill="#804000"/>
<rect x="353.38" y="578.25" width="12.32" height="17.85" fill="#595300"/>
<rect x="364.80" y="578.25" width="12.48" height="17.85" fill="#993300"/>
<rect x="376.68" y="578.25" width="11.38" height="17.85" fill="#bf2000"/>
<rect x="387.46" y="578.25" width="11.38" height="17.85" fill="#8c3a00"/>
<rect x="398.24" y="578.25" width="11.38" height="17.85" fill="#595300"/>
<rect x="409.02" y="578.25" width="15.38" height="17.85" fill="#664d00"/>
<rect x="52.00" y="595.50" width="15.22" height="17.10" fill="#734600"/>
<rect x="66.62" y="595.50" width="11.22" height="17.10" fill="#4c5a00"/>
<rect x="77.24" y="595.50" width="11.22" height="17.10" fill="#595300"/>
<rect x="87.86" y="595.50" width="11.22" height="17.10" fill="#336600"/>
<rect x="98.48" y="595.50" width="11.22" height="17.10" fill="#664d00"/>
<rect x="109.10" y="595.50" width="11.22" height="17.10" fill="#734600"/>
<rect x="119.72" y="595.50" width="11.22" height="17.10" fill="#664d00"/>
<rect x="130.34" y="595.50" width="11.22" height="17.10" fill="#cc1a00"/>
<rect x="140.97" y="595.50" width="11.22" height="17.10" fill="#804000"/>
<rect x="151.59" y="595.50" width="11.22" height="17.10" fill="#266d00"/>
<rect x="162.21" y="595.50" width="11.22" height="17.10" fill="#734600"/>
<rect x="172.83" y="595.50" width="11.22" height="17.10" fill="#ff0000"/>
<rect x="183.45" y="595.50" width="11.22" height="17.10" fill="#1a7300"/>
<rect x="194.07" y="595.50" width="11.22" height="17.10" fill="#4c5a00"/>
<rect x="204.69" y="595.50" width="11.22" height="17.10" fill="#804000"/>
<rect x="215.31" y="595.50" width="11.22" height="17.10" fill="#336600"/>
<rect x="225.93" y="595.50" width="11.22" height="17.10" fill="#4c5a00"/>
<rect x="236.55" y="595.50" width="11.22" height="17.10" fill="#336600"/>
<rect x="247.17" y="595.50" width="11.22" height="17.10" fill="#1a7300"/>
<rect x="257.79" y="595.50" width="11.22" height="17.10" fill="#595300"/>
<rect x="268.41" y="595.50" width="11.22" height="17.10" fill="#406000"/>
<rect x="279.03" y="595.50" width="11.22" height="17.10" fill="#734600"/>
<rect x="289.66" y="595.50" width="11.22" height="17.10" fill="#336600"/>
<rect x="300.28" y="595.50" width="11.22" height="17.10" fill="#0d7a00"/>
<rect x="310.90" y="595.50" width="11.22" height="17.10" fill="#4c5a00"/>
<rect x="321.52" y="595.50" width="11.22" height="17.10" fill="#b22600"/>
<rect x="332.14" y="595.50" width="11.22" height="17.10" fill="#bf2000"/>
<rect x="342.76" y="595.50" width="11.22" height="17.10" fill="#664d00"/>
<rect x="353.38" y="595.50" width="12.32" height="17.10" fill="#0d7a00"/>
<rect x="364.80" y="595.50" width="12.48" height="17.10" fill="#8c3a00"/>
<rect x="376.68" y="595.50" width="11.38" height="17.10" fill="#b22600"/>
<rect x="387.46" y="595.50" width="11.38" height="17.10" fill="#804000"/>
<rect x="398.24" y="595.50" width="11.38" height="17.10" fill="#336600"/>
<rect x="409.02" y="595.50" width="15.38" height="17.10" fill="#266d00"/>
<rect x="52.00" y="612.00" width="15.22" height="17.80" fill="#a62d00"/>
<rect x="66.62" y="612.00" width="11.22" height="17.80" fill="#bf2000"/>
<rect x="77.24" y="612.00" width="11.22" height="17.80" fill="#595300"/>
<rect x="87.86" y="612.00" width="11.22" height="17.80" fill="#8c3a00"/>
<rect x="98.48" y="612.00" width="11.22" height="17.80" fill="#bf2000"/>
<rect x="109.10" y="612.00" width="11.22" height="17.80" fill="#d91300"/>
<rect x="119.72" y="612.00" width="11.22" height="17.80" fill="#f20600"/>
<rect x="130.34" y="612.00" width="11.22" height="17.80" fill="#f20600"/>
<rect x="140.97" y="612.00" width="11.22" height="17.80" fill="#993300"/>
<rect x="151.59" y="612.00" width="11.22" height="17.80" fill="#734600"/>
<rect x="162.21" y="612.00" width="11.22" height="17.80" fill="#993300"/>
<rect x="172.83" y="612.00" width="11.22" height="17.80" fill="#ff0000"/>
<rect x="183.45" y="612.00" width="11.22" height="17.80" fill="#336600"/>
<rect x="194.07" y="612.00" width="11.22" height="17.80" fill="#734600"/>
<rect x="204.69" y="612.00" width="11.22" height="17.80" fill="#cc1a00"/>
<rect x="215.31" y="612.00" width="11.22" height="17.80" fill="#a62d00"/>
<rect x="225.93" y="612.00" width="11.22" height="17.80" fill="#f20600"/>
<rect x="236.55" y="612.00" width="11.22" height="17.80" fill="#8c3a00"/>
<rect x="247.17" y="612.00" width="11.22" height="17.80" fill="#266d00"/>
<rect x="257.79" y="612.00" width="11.22" height="17.80" fill="#804000"/>
<rect x="268.41" y="612.00" width="11.22" height="17.80" fill="#804000"/>
<rect x="279.03" y="612.00" width="11.22" height="17.80" fill="#b22600"/>
<rect x="289.66" y="612.00" width="11.22" height="17.80" fill="#804000"/>
<rect x="300.28" y="612.00" width="11.22" height="17.80" fill="#406000"/>
<rect x="310.90" y="612.00" width="11.22" height="17.80" fill="#993300"/>
<rect x="321.52" y="612.00" width="11.22" height="17.80" fill="#ff0000"/>
<rect x="332.14" y="612.00" width="11.22" height="17.80" fill="#ff0000"/>
<rect x="342.76" y="612.00" width="11.22" height="17.80" fill="#8c3a00"/>
<rect x="353.38" y="612.00" width="12.32" height="17.80" fill="#406000"/>
<rect x="364.80" y="612.00" width="12.48" height="17.80" fill="#b22600"/>
<rect x="376.68" y="612.00" width="11.38" height="17.80" fill="#cc1a00"/>
<rect x="387.46" y="612.00" width="11.38" height="17.80" fill="#993300"/>
<rect x="398.24" y="612.00" width="11.38" height="17.80" fill="#664d00"/>
<rect x="409.02" y="612.00" width="15.38" height="17.80" fill="#8c3a00"/>
<rect x="52.00" y="629.20" width="15.22" height="18.00" fill="#8c3a00"/>
<rect x="66.62" y="629.20" width="11.22" height="18.00" fill="#8c3a00"/>
<rect x="77.24" y="629.20" width="11.22" height="18.00" fill="#734600"/>
<rect x="87.86" y="629.20" width="11.22" height="18.00" fill="#734600"/>
<rect x="98.48" y="629.20" width="11.22" height="18.00" fill="#a12f00"/>
<rect x="109.10" y="629.20" width="11.22" height="18.00" fill="#cc1a00"/>
<rect x="119.72" y="629.20" width="11.22" height="18.00" fill="#d91300"/>
<rect x="130.34" y="629.20" width="11.22" height="18.00" fill="#f00800"/>
<rect x="140.97" y="629.20" width="11.22" height="18.00" fill="#804000"/>
<rect x="151.59" y="629.20" width="11.22" height="18.00" fill="#734600"/>
<rect x="162.21" y="629.20" width="11.22" height="18.00" fill="#b22600"/>
<rect x="172.83" y="629.20" width="11.22" height="18.00" fill="#ff0000"/>
<rect x="183.45" y="629.20" width="11.22" height="18.00" fill="#734600"/>
<rect x="194.07" y="629.20" width="11.22" height="18.00" fill="#993300"/>
<rect x="204.69" y="629.20" width="11.22" height="18.00" fill="#e60d00"/>
<rect x="215.31" y="629.20" width="11.22" height="18.00" fill="#993300"/>
<rect x="225.93" y="629.20" width="11.22" height="18.00" fill="#bf2000"/>
<rect x="236.55" y="629.20" width="11.22" height="18.00" fill="#b22600"/>
<rect x="247.17" y="629.20" width="11.22" height="18.00" fill="#336600"/>
<rect x="257.79" y="629.20" width="11.22" height="18.00" fill="#804000"/>
<rect x="268.41" y="629.20" width="11.22" height="18.00" fill="#804000"/>
<rect x="279.03" y="629.20" width="11.22" height="18.00" fill="#8c3a00"/>
<rect x="289.66" y="629.20" width="11.22" height="18.00" fill="#734600"/>
<rect x="300.28" y="629.20" width="11.22" height="18.00" fill="#336600"/>
<rect x="310.90" y="629.20" width="11.22" height="18.00" fill="#664d00"/>
<rect x="321.52" y="629.20" width="11.22" height="18.00" fill="#ff0000"/>
<rect x="332.14" y="629.20" width="11.22" height="18.00" fill="#ff0000"/>
<rect x="342.76" y="629.20" width="11.22" height="18.00" fill="#595300"/>
<rect x="353.38" y="629.20" width="12.32" height="18.00" fill="#336600"/>
<rect x="364.80" y="629.20" width="12.48" height="18.00" fill="#993300"/>
<rect x="376.68" y="629.20" width="11.38" height="18.00" fill="#b22600"/>
<rect x="387.46" y="629.20" width="11.38" height="18.00" fill="#a62d00"/>
<rect x="398.24" y="629.20" width="11.38" height="18.00" fill="#4c5a00"/>
<rect x="409.02" y="629.20" width="15.38" height="18.00" fill="#0d7a00"/>
<rect x="52.00" y="646.60" width="15.22" height="18.00" fill="#804000"/>
<rect x="66.62" y="646.60" width="11.22" height="18.00" fill="#804000"/>
<rect x="77.24" y="646.60" width="11.22" height="18.00" fill="#734600"/>
<rect x="87.86" y="646.60" width="11.22" height="18.00" fill="#595300"/>
<rect x="98.48" y="646.60" width="11.22" height="18.00" fill="#804000"/>
<rect x="109.10" y="646.60" width="11.22" height="18.00" fill="#d41600"/>
<rect x="119.72" y="646.60" width="11.22" height="18.00" fill="#b22600"/>
<rect x="130.34" y="646.60" width="11.22" height="18.00" fill="#f00800"/>
<rect x="140.97" y="646.60" width="11.22" height="18.00" fill="#595300"/>
<rect x="151.59" y="646.60" width="11.22" height="18.00" fill="#734600"/>
<rect x="162.21" y="646.60" width="11.22" height="18.00" fill="#b22600"/>
<rect x="172.83" y="646.60" width="11.22" height="18.00" fill="#ff0000"/>
<rect x="183.45" y="646.60" width="11.22" height="18.00" fill="#0d7a00"/>
<rect x="194.07" y="646.60" width="11.22" height="18.00" fill="#734600"/>
<rect x="204.69" y="646.60" width="11.22" height="18.00" fill="#e60d00"/>
<rect x="215.31" y="646.60" width="11.22" height="18.00" fill="#664d00"/>
<rect x="225.93" y="646.60" width="11.22" height="18.00" fill="#734600"/>
<rect x="236.55" y="646.60" width="11.22" height="18.00" fill="#734600"/>
<rect x="247.17" y="646.60" width="11.22" height="18.00" fill="#734600"/>
<rect x="257.79" y="646.60" width="11.22" height="18.00" fill="#804000"/>
<rect x="268.41" y="646.60" width="11.22" height="18.00" fill="#595300"/>
<rect x="279.03" y="646.60" width="11.22" height="18.00" fill="#a62d00"/>
<rect x="289.66" y="646.60" width="11.22" height="18.00" fill="#406000"/>
<rect x="300.28" y="646.60" width="11.22" height="18.00" fill="#4c5a00"/>
<rect x="310.90" y="646.60" width="11.22" height="18.00" fill="#734600"/>
<rect x="321.52" y="646.60" width="11.22" height="18.00" fill="#ff0000"/>
<rect x="332.14" y="646.60" width="11.22" height="18.00" fill="#ff0000"/>
<rect x="342.76" y="646.60" width="11.22" height="18.00" fill="#664d00"/>
<rect x="353.38" y="646.60" width="12.32" height="18.00" fill="#406000"/>
<rect x="364.80" y="646.60" width="12.48" height="18.00" fill="#b22600"/>
<rect x="376.68" y="646.60" width="11.38" height="18.00" fill="#993300"/>
<rect x="387.46" y="646.60" width="11.38" height="18.00" fill="#993300"/>
<rect x="398.24" y="646.60" width="11.38" height="18.00" fill="#406000"/>
<rect x="409.02" y="646.60" width="15.38" height="18.00" fill="#734600"/>
<rect x="52.00" y="664.00" width="15.22" height="18.30" fill="#336600"/>
<rect x="66.62" y="664.00" width="11.22" height="18.30" fill="#595300"/>
<rect x="77.24" y="664.00" width="11.22" height="18.30" fill="#595300"/>
<rect x="87.86" y="664.00" width="11.22" height="18.30" fill="#266d00"/>
<rect x="98.48" y="664.00" width="11.22" height="18.30" fill="#406000"/>
<rect x="109.10" y="664.00" width="11.22" height="18.30" fill="#734600"/>
<rect x="119.72" y="664.00" width="11.22" height="18.30" fill="#664d00"/>
<rect x="130.34" y="664.00" width="11.22" height="18.30" fill="#993300"/>
<rect x="140.97" y="664.00" width="11.22" height="18.30" fill="#266d00"/>
<rect x="151.59" y="664.00" width="11.22" height="18.30" fill="#1a7300"/>
<rect x="162.21" y="664.00" width="11.22" height="18.30" fill="#664d00"/>
<rect x="172.83" y="664.00" width="11.22" height="18.30" fill="#a62d00"/>
<rect x="183.45" y="664.00" width="11.22" height="18.30" fill="#406000"/>
<rect x="194.07" y="664.00" width="11.22" height="18.30" fill="#4c5a00"/>
<rect x="204.69" y="664.00" width="11.22" height="18.30" fill="#993300"/>
<rect x="215.31" y="664.00" width="11.22" height="18.30" fill="#4c5a00"/>
<rect x="225.93" y="664.00" width="11.22" height="18.30" fill="#336600"/>
<rect x="236.55" y="664.00" width="11.22" height="18.30" fill="#595300"/>
<rect x="247.17" y="664.00" width="11.22" height="18.30" fill="#4c5a00"/>
<rect x="257.79" y="664.00" width="11.22" height="18.30" fill="#595300"/>
<rect x="268.41" y="664.00" width="11.22" height="18.30" fill="#336600"/>
<rect x="279.03" y="664.00" width="11.22" height="18.30" fill="#406000"/>
<rect x="289.66" y="664.00" width="11.22" height="18.30" fill="#336600"/>
<rect x="300.28" y="664.00" width="11.22" height="18.30" fill="#406000"/>
<rect x="310.90" y="664.00" width="11.22" height="18.30" fill="#4c5a00"/>
<rect x="321.52" y="664.00" width="11.22" height="18.30" fill="#bf2000"/>
<rect x="332.14" y="664.00" width="11.22" height="18.30" fill="#b22600"/>
<rect x="342.76" y="664.00" width="11.22" height="18.30" fill="#406000"/>
<rect x="353.38" y="664.00" width="12.32" height="18.30" fill="#266d00"/>
<rect x="364.80" y="664.00" width="12.48" height="18.30" fill="#664d00"/>
<rect x="376.68" y="664.00" width="11.38" height="18.30" fill="#a62d00"/>
<rect x="387.46" y="664.00" width="11.38" height="18.30" fill="#595300"/>
<rect x="398.24" y="664.00" width="11.38" height="18.30" fill="#4c5a00"/>
<rect x="409.02" y="664.00" width="15.38" height="18.30" fill="#266d00"/>
<rect x="52.00" y="681.70" width="15.22" height="18.30" fill="#336600"/>
<rect x="66.62" y="681.70" width="11.22" height="18.30" fill="#595300"/>
<rect x="77.24" y="681.70" width="11.22" height="18.30" fill="#4c5a00"/>
<rect x="87.86" y="681.70" width="11.22" height="18.30" fill="#266d00"/>
<rect x="98.48" y="681.70" width="11.22" height="18.30" fill="#406000"/>
<rect x="109.10" y="681.70" width="11.22" height="18.30" fill="#664d00"/>
<rect x="119.72" y="681.70" width="11.22" height="18.30" fill="#664d00"/>
<rect x="130.34" y="681.70" width="11.22" height="18.30" fill="#993300"/>
<rect x="140.97" y="681.70" width="11.22" height="18.30" fill="#266d00"/>
<rect x="151.59" y="681.70" width="11.22" height="18.30" fill="#0d7a00"/>
<rect x="162.21" y="681.70" width="11.22" height="18.30" fill="#595300"/>
<rect x="172.83" y="681.70" width="11.22" height="18.30" fill="#993300"/>
<rect x="183.45" y="681.70" width="11.22" height="18.30" fill="#4c5a00"/>
<rect x="194.07" y="681.70" width="11.22" height="18.30" fill="#406000"/>
<rect x="204.69" y="681.70" width="11.22" height="18.30" fill="#8c3a00"/>
<rect x="215.31" y="681.70" width="11.22" height="18.30" fill="#406000"/>
<rect x="225.93" y="681.70" width="11.22" height="18.30" fill="#0d7a00"/>
<rect x="236.55" y="681.70" width="11.22" height="18.30" fill="#406000"/>
<rect x="247.17" y="681.70" width="11.22" height="18.30" fill="#4c5a00"/>
<rect x="257.79" y="681.70" width="11.22" height="18.30" fill="#406000"/>
<rect x="268.41" y="681.70" width="11.22" height="18.30" fill="#0d7a00"/>
<rect x="279.03" y="681.70" width="11.22" height="18.30" fill="#266d00"/>
<rect x="289.66" y="681.70" width="11.22" height="18.30" fill="#1a7300"/>
<rect x="300.28" y="681.70" width="11.22" height="18.30" fill="#1a7300"/>
<rect x="310.90" y="681.70" width="11.22" height="18.30" fill="#4c5a00"/>
<rect x="321.52" y="681.70" width="11.22" height="18.30" fill="#bf2000"/>
<rect x="332.14" y="681.70" width="11.22" height="18.30" fill="#b22600"/>
<rect x="342.76" y="681.70" width="11.22" height="18.30" fill="#406000"/>
<rect x="353.38" y="681.70" width="12.32" height="18.30" fill="#266d00"/>
<rect x="364.80" y="681.70" width="12.48" height="18.30" fill="#664d00"/>
<rect x="376.68" y="681.70" width="11.38" height="18.30" fill="#cc1a00"/>
<rect x="387.46" y="681.70" width="11.38" height="18.30" fill="#595300"/>
<rect x="398.24" y="681.70" width="11.38" height="18.30" fill="#406000"/>
<rect x="409.02" y="681.70" width="15.38" height="18.30" fill="#266d00"/>
<rect x="52.00" y="699.40" width="15.22" height="17.80" fill="#336600"/>
<rect x="66.62" y="699.40" width="11.22" height="17.80" fill="#b22600"/>
<rect x="77.24" y="699.40" width="11.22" height="17.80" fill="#4c5a00"/>
<rect x="87.86" y="699.40" width="11.22" height="17.80" fill="#266d00"/>
<rect x="98.48" y="699.40" width="11.22" height="17.80" fill="#595300"/>
<rect x="109.10" y="699.40" width="11.22" height="17.80" fill="#b22600"/>
<rect x="119.72" y="699.40" width="11.22" height="17.80" fill="#8c3a00"/>
<rect x="130.34" y="699.40" width="11.22" height="17.80" fill="#f50500"/>
<rect x="140.97" y="699.40" width="11.22" height="17.80" fill="#266d00"/>
<rect x="151.59" y="699.40" width="11.22" height="17.80" fill="#266d00"/>
<rect x="162.21" y="699.40" width="11.22" height="17.80" fill="#8c3a00"/>
<rect x="172.83" y="699.40" width="11.22" height="17.80" fill="#e00f00"/>
<rect x="183.45" y="699.40" width="11.22" height="17.80" fill="#a62d00"/>
<rect x="194.07" y="699.40" width="11.22" height="17.80" fill="#595300"/>
<rect x="204.69" y="699.40" width="11.22" height="17.80" fill="#d91300"/>
<rect x="215.31" y="699.40" width="11.22" height="17.80" fill="#595300"/>
<rect x="225.93" y="699.40" width="11.22" height="17.80" fill="#595300"/>
<rect x="236.55" y="699.40" width="11.22" height="17.80" fill="#8c3a00"/>
<rect x="247.17" y="699.40" width="11.22" height="17.80" fill="#595300"/>
<rect x="257.79" y="699.40" width="11.22" height="17.80" fill="#595300"/>
<rect x="268.41" y="699.40" width="11.22" height="17.80" fill="#4c5a00"/>
<rect x="279.03" y="699.40" width="11.22" height="17.80" fill="#4c5a00"/>
<rect x="289.66" y="699.40" width="11.22" height="17.80" fill="#734600"/>
<rect x="300.28" y="699.40" width="11.22" height="17.80" fill="#336600"/>
<rect x="310.90" y="699.40" width="11.22" height="17.80" fill="#664d00"/>
<rect x="321.52" y="699.40" width="11.22" height="17.80" fill="#ff0000"/>
<rect x="332.14" y="699.40" width="11.22" height="17.80" fill="#ff0000"/>
<rect x="342.76" y="699.40" width="11.22" height="17.80" fill="#664d00"/>
<rect x="353.38" y="699.40" width="12.32" height="17.80" fill="#406000"/>
<rect x="364.80" y="699.40" width="12.48" height="17.80" fill="#8c3a00"/>
<rect x="376.68" y="699.40" width="11.38" height="17.80" fill="#cc1a00"/>
<rect x="387.46" y="699.40" width="11.38" height="17.80" fill="#8c3a00"/>
<rect x="398.24" y="699.40" width="11.38" height="17.80" fill="#336600"/>
<rect x="409.02" y="699.40" width="15.38" height="17.80" fill="#4c5a00"/>
<rect x="52.00" y="716.60" width="15.22" height="21.00" fill="#336600"/>
<rect x="66.62" y="716.60" width="11.22" height="21.00" fill="#b22600"/>
<rect x="77.24" y="716.60" width="11.22" height="21.00" fill="#4c5a00"/>
<rect x="87.86" y="716.60" width="11.22" height="21.00" fill="#266d00"/>
<rect x="98.48" y="716.60" width="11.22" height="21.00" fill="#595300"/>
<rect x="109.10" y="716.60" width="11.22" height="21.00" fill="#a62d00"/>
<rect x="119.72" y="716.60" width="11.22" height="21.00" fill="#804000"/>
<rect x="130.34" y="716.60" width="11.22" height="21.00" fill="#f00800"/>
<rect x="140.97" y="716.60" width="11.22" height="21.00" fill="#266d00"/>
<rect x="151.59" y="716.60" width="11.22" height="21.00" fill="#266d00"/>
<rect x="162.21" y="716.60" width="11.22" height="21.00" fill="#8c3a00"/>
<rect x="172.83" y="716.60" width="11.22" height="21.00" fill="#d91300"/>
<rect x="183.45" y="716.60" width="11.22" height="21.00" fill="#993300"/>
<rect x="194.07" y="716.60" width="11.22" height="21.00" fill="#595300"/>
<rect x="204.69" y="716.60" width="11.22" height="21.00" fill="#cc1a00"/>
<rect x="215.31" y="716.60" width="11.22" height="21.00" fill="#595300"/>
<rect x="225.93" y="716.60" width="11.22" height="21.00" fill="#595300"/>
<rect x="236.55" y="716.60" width="11.22" height="21.00" fill="#804000"/>
<rect x="247.17" y="716.60" width="11.22" height="21.00" fill="#595300"/>
<rect x="257.79" y="716.60" width="11.22" height="21.00" fill="#734600"/>
<rect x="268.41" y="716.60" width="11.22" height="21.00" fill="#4c5a00"/>
<rect x="279.03" y="716.60" width="11.22" height="21.00" fill="#406000"/>
<rect x="289.66" y="716.60" width="11.22" height="21.00" fill="#664d00"/>
<rect x="300.28" y="716.60" width="11.22" height="21.00" fill="#266d00"/>
<rect x="310.90" y="716.60" width="11.22" height="21.00" fill="#664d00"/>
<rect x="321.52" y="716.60" width="11.22" height="21.00" fill="#ff0000"/>
<rect x="332.14" y="716.60" width="11.22" height="21.00" fill="#ff0000"/>
<rect x="342.76" y="716.60" width="11.22" height="21.00" fill="#595300"/>
<rect x="353.38" y="716.60" width="12.32" height="21.00" fill="#406000"/>
<rect x="364.80" y="716.60" width="12.48" height="21.00" fill="#8c3a00"/>
<rect x="376.68" y="716.60" width="11.38" height="21.00" fill="#bf2000"/>
<rect x="387.46" y="716.60" width="11.38" height="21.00" fill="#804000"/>
<rect x="398.24" y="716.60" width="11.38" height="21.00" fill="#406000"/>
<rect x="409.02" y="716.60" width="15.38" height="21.00" fill="#4c5a00"/>
</g></g>
<rect x="55.00" y="558.90" width="365.80" height="1.50" fill="#fff" filter="url(#gb)"/>
<rect x="55.00" y="577.50" width="365.80" height="1.50" fill="#fff" filter="url(#gb)"/>
<rect x="55.00" y="628.45" width="365.80" height="1.50" fill="#fff" filter="url(#gb)"/>
<rect x="55.00" y="663.25" width="365.80" height="1.50" fill="#fff" filter="url(#gb)"/>
<rect x="55.00" y="698.65" width="365.80" height="1.50" fill="#fff" filter="url(#gb)"/>
<rect x="364.00" y="526.40" width="1.90" height="210.00" fill="#fff" filter="url(#gb)"/>
<rect x="438" y="628.6" width="10.3" height="104" fill="url(#cb)"/>
<text class="b h" x="421.8" y="638.6" font-size="6.9">13,6</text>
<text class="b h" x="421.9" y="727.9" font-size="6.9">6,6</text>
</g>
</svg></body></html>
